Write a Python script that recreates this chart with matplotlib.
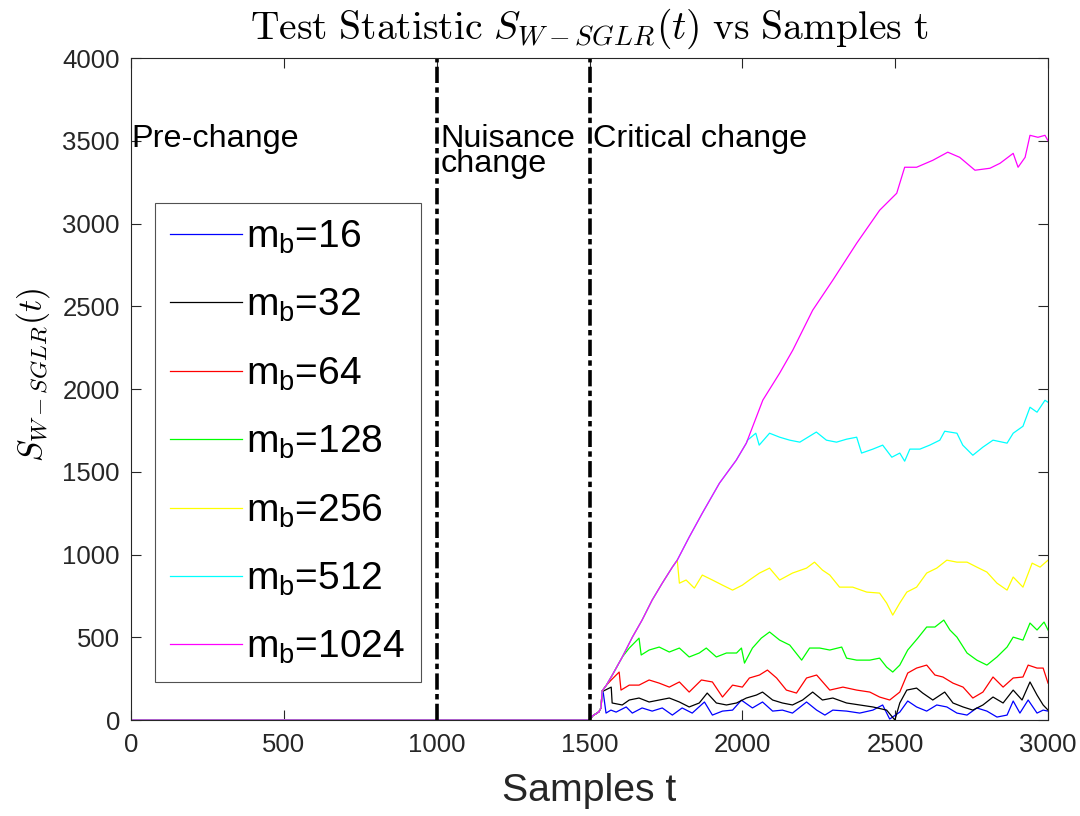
import matplotlib
matplotlib.use("Agg")
import matplotlib.pyplot as plt

plt.rcParams['font.family'] = ['Liberation Sans', 'DejaVu Sans']

# shared start: every curve sits on this trajectory until it splits off
ramp_t = [0, 1500, 1510, 1531, 1538, 1541, 1555, 1574, 1607, 1640, 1672, 1705,
          1738, 1771, 1787, 1826, 1869, 1925, 1980, 2013]
ramp_v = [0, 0, 25, 50, 75, 175, 210, 270, 380, 500, 604, 725,
          827, 924, 966, 1105, 1250, 1431, 1570, 1673]

blue_t = [1545, 1554, 1570, 1587, 1620, 1640, 1672, 1705, 1738, 1771,
          1803, 1836, 1876, 1902, 1935, 1968, 1997, 2033, 2066, 2099,
          2131, 2164, 2210, 2243, 2270, 2296, 2341, 2384, 2427, 2459,
          2482, 2515, 2541, 2570, 2603, 2636, 2669, 2702, 2735, 2767,
          2800, 2833, 2866, 2886, 2908, 2935, 2964, 2984, 3000]
blue_v = [165, 42, 60, 48, 79, 42, 73, 54, 73, 30,
          73, 42, 109, 30, 54, 60, 120, 73, 109, 54,
          60, 42, 109, 60, 30, 60, 54, 42, 60, 91,
          6, 48, 115, 79, 54, 91, 79, 42, 30, 73,
          54, 18, 30, 115, 42, 121, 42, 60, 54]

black_t = [1545, 1571, 1574, 1607, 1630, 1662, 1695, 1728, 1761, 1794,
           1826, 1859, 1885, 1915, 1948, 1981, 2013, 2046, 2066, 2099,
           2131, 2164, 2197, 2230, 2262, 2296, 2341, 2384, 2427, 2472,
           2499, 2515, 2538, 2570, 2590, 2623, 2662, 2689, 2722, 2754,
           2787, 2820, 2853, 2886, 2915, 2941, 2964, 2984, 3000]
black_v = [175, 199, 103, 91, 121, 133, 109, 121, 133, 109,
           79, 103, 163, 103, 91, 103, 133, 151, 169, 121,
           103, 91, 121, 169, 121, 133, 103, 91, 79, 60,
           0, 103, 181, 193, 163, 121, 169, 103, 79, 60,
           91, 139, 103, 181, 121, 230, 151, 91, 60]

red_t = [1571, 1597, 1603, 1630, 1662, 1695, 1728, 1761, 1794, 1826,
         1866, 1902, 1935, 1968, 2000, 2023, 2056, 2082, 2112, 2144,
         2177, 2210, 2243, 2286, 2329, 2374, 2417, 2449, 2482, 2515,
         2541, 2570, 2603, 2630, 2656, 2689, 2722, 2754, 2787, 2820,
         2853, 2886, 2918, 2935, 2964, 2984, 3000]
red_v = [242, 290, 181, 211, 211, 242, 223, 199, 230, 169,
         242, 230, 139, 211, 199, 254, 272, 302, 254, 181,
         163, 254, 272, 181, 199, 181, 169, 139, 121, 169,
         284, 314, 332, 272, 260, 223, 199, 133, 169, 260,
         199, 254, 260, 332, 314, 314, 223]

green_t = [1630, 1662, 1669, 1695, 1728, 1761, 1794, 1826, 1859, 1882,
           1915, 1948, 1981, 1997, 2007, 2033, 2062, 2089, 2122, 2155,
           2194, 2220, 2253, 2286, 2325, 2341, 2374, 2417, 2449, 2472,
           2492, 2515, 2541, 2574, 2603, 2630, 2659, 2679, 2702, 2735,
           2767, 2800, 2833, 2866, 2886, 2918, 2941, 2964, 2987, 3000]
green_v = [435, 495, 393, 423, 441, 411, 435, 381, 405, 435,
           381, 405, 405, 435, 344, 435, 495, 532, 483, 453,
           362, 435, 435, 423, 441, 374, 362, 362, 374, 320,
           290, 332, 423, 495, 562, 562, 604, 544, 501, 405,
           362, 332, 381, 441, 501, 483, 586, 544, 592, 544]

yellow_t = [1794, 1816, 1843, 1869, 1902, 1935, 1968, 2000, 2023, 2056,
            2089, 2122, 2164, 2210, 2236, 2262, 2286, 2318, 2361, 2407,
            2449, 2472, 2492, 2515, 2538, 2570, 2603, 2636, 2669, 2702,
            2735, 2767, 2800, 2833, 2866, 2886, 2918, 2948, 2974, 3000]
yellow_v = [827, 846, 797, 876, 846, 815, 785, 815, 846, 888,
            918, 846, 888, 918, 954, 906, 876, 803, 803, 773,
            767, 707, 634, 707, 773, 803, 888, 918, 966, 954,
            954, 924, 894, 827, 785, 864, 803, 948, 924, 966]

cyan_t = [2017, 2044, 2055, 2089, 2122, 2155, 2188, 2242, 2275, 2308,
          2341, 2374, 2390, 2427, 2459, 2489, 2515, 2531, 2548, 2581,
          2613, 2646, 2662, 2702, 2721, 2754, 2787, 2820, 2866, 2886,
          2918, 2941, 2964, 2990, 3000]
cyan_v = [1691, 1733, 1661, 1733, 1709, 1691, 1679, 1740, 1691, 1679,
          1697, 1709, 1613, 1637, 1661, 1588, 1613, 1564, 1637, 1637,
          1661, 1691, 1745, 1733, 1661, 1600, 1649, 1691, 1673, 1733,
          1775, 1890, 1860, 1932, 1920]

magenta_t = [2067, 2122, 2165, 2230, 2296, 2374, 2449, 2505, 2531, 2570,
             2623, 2672, 2711, 2761, 2810, 2843, 2886, 2902, 2925, 2941,
             2967, 2990, 3000]
magenta_v = [1933, 2096, 2235, 2476, 2658, 2881, 3080, 3183, 3340, 3340,
             3382, 3431, 3400, 3322, 3334, 3364, 3424, 3340, 3400, 3533,
             3521, 3533, 3500]

labels = ['16', '32', '64', '128', '256', '512', '1024']
colors = [(0, 0, 1), (0, 0, 0), (1, 0, 0), (0, 1, 0), (1, 1, 0), (0, 1, 1), (1, 0, 1)]
own = [(blue_t, blue_v), (black_t, black_v), (red_t, red_v), (green_t, green_v),
       (yellow_t, yellow_v), (cyan_t, cyan_v), (magenta_t, magenta_v)]


def branch(t_own, v_own):
    keep = [i for i, t in enumerate(ramp_t) if t < t_own[0]]
    return [ramp_t[i] for i in keep] + t_own, [ramp_v[i] for i in keep] + v_own


fig = plt.figure(figsize=(10.8, 8.16), dpi=100)
ax = fig.add_axes([0.1213, 0.1176, 0.8491, 0.8113])
axcol = (0.15, 0.15, 0.15)

for (t_own, v_own), c, lab in zip(own, colors, labels):
    t, v = branch(t_own, v_own)
    ax.plot(t, v, color=c, lw=0.9, label=r'm$_\mathregular{b}$=' + lab)

for xv in [1000, 1500]:
    ax.axvline(xv, color='k', lw=2.6, linestyle=(0, (4.5, 1.2, 1.5, 1.2)))

ax.text(2, 3461, 'Pre-change', fontsize=23.3, va='baseline', ha='left')
ax.text(1012, 3310, 'Nuisance\nchange', fontsize=23.3, va='baseline', ha='left',
        linespacing=0.8)
ax.text(1512, 3461, 'Critical change', fontsize=23.3, va='baseline', ha='left')

ax.set_xlim(0, 3000)
ax.set_ylim(0, 4000)
ax.set_xticks(range(0, 3001, 500))
ax.set_yticks(range(0, 4001, 500))
ax.tick_params(direction='in', length=7, width=0.8, colors=axcol,
               labelsize=18.5, top=True, right=True)
ax.tick_params(axis='x', pad=9)
ax.tick_params(axis='y', pad=8)
for s in ax.spines.values():
    s.set_color(axcol)
    s.set_linewidth(0.8)

ax.set_xlabel('Samples t', fontsize=28.3, color=axcol, labelpad=12)
ax.set_ylabel(r'$S_{W-SGLR}(t)$', fontsize=24, math_fontfamily='cm')
ax.yaxis.set_label_coords(-0.086, 0.521)
ax.set_title(r'$\mathrm{Test\ Statistic}\ S_{W-SGLR}(t)\ \mathrm{vs\ Samples\ t}$',
             fontsize=28.5, math_fontfamily='cm', pad=14)

leg = ax.legend(loc='upper left', bbox_to_anchor=(0.026, 0.781), borderaxespad=0,
                fontsize=28, handlelength=1.85, handletextpad=0.1,
                labelspacing=0.8, borderpad=0.4, fancybox=False)
leg.get_frame().set_edgecolor(axcol)
leg.get_frame().set_linewidth(0.8)

fig.savefig('out.png', dpi=100)
